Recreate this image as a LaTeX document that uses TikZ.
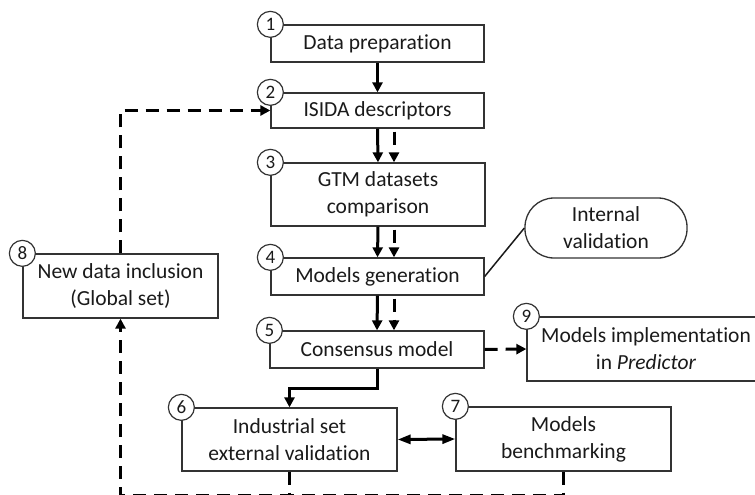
\documentclass[tikz,border=0pt]{standalone}
\usepackage{fontspec}
\setmainfont{Carlito}[Ligatures=NoCommon]
\usetikzlibrary{arrows.meta,calc}
\definecolor{ink}{HTML}{1A1A1A}
\definecolor{edge}{HTML}{333333}
\tikzset{
  box/.style={draw=edge, line width=1.3pt, fill=white, text=ink, align=center,
    inner sep=0pt, font=\fontsize{21.5}{27}\selectfont},
  num/.style={draw=edge, line width=1.2pt, fill=white, circle, minimum size=26pt,
    inner sep=0pt, text=ink, font=\fontsize{19}{19}\selectfont},
  arr/.style={line width=3pt, draw=black, -{Triangle[length=10pt,width=10pt]}},
  darr/.style={arr, dash pattern=on 13pt off 8pt},
  dline/.style={line width=3pt, draw=black, dash pattern=on 13pt off 8pt},
  link/.style={line width=1.5pt, draw=ink},
}
\begin{document}
\begin{tikzpicture}[x=1pt,y=-1pt]
\useasboundingbox (0,0) rectangle (755,495);
% boxes
\node[box, minimum width=213pt, minimum height=37pt] (b1) at (377.5,43.5) {Data preparation};
\node[box, minimum width=213pt, minimum height=35pt] (b2) at (377.5,110.5) {ISIDA descriptors};
\node[box, minimum width=214pt, minimum height=63pt] (b3) at (378,194.5) {GTM datasets\\comparison};
\node[box, minimum width=213pt, minimum height=37pt] (b4) at (377.5,276.5) {Models generation};
\node[box, minimum width=214pt, minimum height=37pt] (b5) at (377,349.5) {Consensus model};
\node[box, minimum width=215pt, minimum height=63pt] (b6) at (289.5,439.5) {Industrial set\\external validation};
\node[box, minimum width=215pt, minimum height=64pt] (b7) at (563.5,439) {Models\\benchmarking};
\node[box, minimum width=195pt, minimum height=64pt] (b8) at (120.5,286) {New data inclusion\\(Global set)};
\node[box, minimum width=238pt, minimum height=64pt] (b9) at (646,349) {Models implementation\\in \textit{Predictor}};
\node[box, minimum width=162pt, minimum height=60pt, rounded corners=29pt] (iv) at (606,228) {Internal\\validation};
% numbers
\node[num] (n1) at (b1.north west) {1};
\node[num] (n2) at (b2.north west) {2};
\node[num] (n3) at (b3.north west) {3};
\node[num] (n4) at (b4.north west) {4};
\node[num] (n5) at (b5.north west) {5};
\node[num] (n6) at (b6.north west) {6};
\node[num] (n7) at (b7.north west) {7};
\node[num] (n8) at (b8.north west) {8};
\node[num] (n9) at (b9.north west) {9};
\coordinate (dx) at (394,0);
% main flow
\draw[arr] (b1.south) -- (b2.north);
\draw[arr] (b2.south) -- (b3.north);
\draw[darr] ($(b2.south -| dx)+(0,3)$) -- (b3.north -| dx);
\draw[arr] (b3.south) -- (b4.north);
\draw[darr] ($(b3.south -| dx)+(0,3)$) -- (b4.north -| dx);
\draw[arr] (b4.south) -- (b5.north);
\draw[darr] ($(b4.south -| dx)+(0,3)$) -- (b5.north -| dx);
\draw[arr] (b5.south) -- ++(0,20) -| (b6.north);
\draw[line width=3pt, {Triangle[length=13pt,width=9pt]}-{Triangle[length=13pt,width=9pt]}] (b6.east) -- (b7.west);
\draw[link] (b4.east) -- (iv.west);
\draw[darr] (b5.east) -- (b9.west);
% feedback loops
\draw[darr] (b8.north) |- (b2.west);
\draw[darr] (b6.south) -- ++(0,24) -| (b8.south);
\draw[dline] (b7.south) -- ++(0,24) -- ($(b6.south)+(0,24)$);
\end{tikzpicture}
\end{document}
